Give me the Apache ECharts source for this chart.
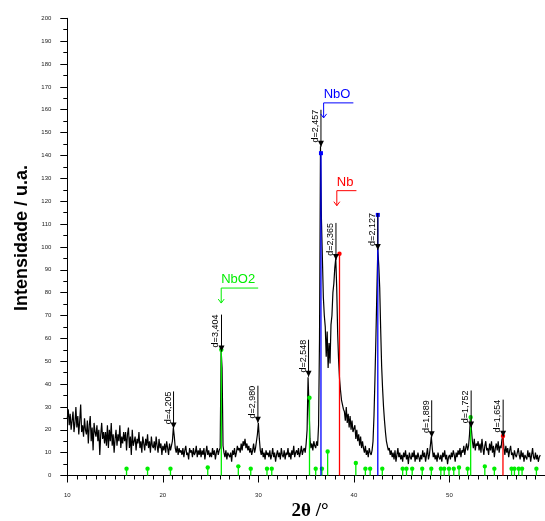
<!DOCTYPE html>
<html>
<head>
<meta charset="utf-8">
<script src="https://cdn.jsdelivr.net/npm/echarts@6/dist/echarts.min.js"></script>
<style>
html,body{margin:0;padding:0;background:#fff}
#main{width:545px;height:521px}
</style>
</head>
<body>
<div id="main"></div>
<script>
// diffractogram, 2theta from 10 in steps of 0.1
const angleStart = 10
const angleStep = 0.1
const intensity = [
  25,29,22,27,20,24,28,19,23,30,
  21,26,18,24,31,19,22,17,25,20,
  18,24,14,22,26,15,21,11,23,19,
  17,22,15,20,9,18,23,16,19,14,
  19,13,22,12,20,15,23,13,18,10,
  16,20,13,18,15,22,12,17,14,19,
  15,19,11,18,21,12,17,9,20,13,
  13,17,11,16,14,19,12,15,10,17,
  14,11,16,13,18,12,15,10,17,13,
  12,15,11,17,13,10,16,12,14,9,
  13,11,14,10,15,12,9,14,11,13,
  15,21,17,12,10,13,9,12,10,11,
  9,12,8,11,13,9,10,7,12,10,
  11,8,12,9,10,13,8,11,9,12,
  8,11,9,12,7,10,13,9,11,8,
  10,8,12,9,11,7,10,12,9,11,
  12,55,47,13,10,8,11,7,10,9,
  8,10,6,11,9,12,8,10,13,11,
  12,10,14,11,15,13,16,12,14,11,
  13,10,12,9,11,14,10,12,15,18,
  23,16,11,9,12,8,10,7,11,9,
  10,8,11,7,9,12,8,10,6,9,
  11,8,10,7,12,9,8,11,7,10,
  9,12,8,10,7,11,9,13,8,10,
  11,9,12,8,10,13,9,11,12,10,
  14,20,43,30,16,12,14,11,15,13,
  12,15,13,22,60,144,112,95,78,70,
  65,52,63,47,58,49,66,70,80,84,
  91,95,82,62,50,42,37,33,31,29,
  28,24,30,23,27,21,26,20,24,19,
  19,22,16,20,15,18,13,17,12,15,
  12,10,13,9,11,8,12,10,9,11,
  15,26,42,60,80,99,92,82,64,48,
  38,30,24,19,15,13,11,12,9,11,
  8,10,7,11,6,9,12,8,10,7,
  9,6,10,8,11,7,9,5,10,8,
  7,10,8,11,6,9,7,10,8,6,
  9,7,11,8,10,6,9,12,7,9,
  9,17,12,8,10,7,9,6,10,8,
  7,9,6,10,8,11,7,9,5,8,
  9,7,10,8,11,9,6,10,8,11,
  9,12,8,11,10,13,9,12,14,11,
  13,18,26,20,15,12,16,11,14,13,
  15,11,14,10,16,12,9,13,15,11,
  12,9,14,11,15,10,13,8,12,14,
  11,15,10,13,12,16,17,12,9,13,
  10,12,8,11,13,9,10,7,11,9,
  8,10,12,9,7,11,8,10,6,9,
  9,7,11,8,10,6,9,12,8,7,
  10,7,9,6,8,9
]

// reference patterns [2theta, relative height]
const nbo2Lines = [
  [16.2,3],[18.4,3],[20.8,3],[24.7,3.5],[26.12,55],[27.9,4],[29.2,3],[30.9,3],[31.4,3],
  [35.35,34],[36.0,3],[36.65,3],[37.25,10.5],[40.2,5.5],[41.2,3],[41.7,3],[42.97,3],
  [45.1,3],[45.5,3],[46.1,3],[47.15,3],[48.1,3],[49.1,3],[49.45,3],[49.95,3],[50.45,3],
  [51.0,3.5],[51.9,3],[52.22,25.5],[53.7,4],[54.7,3],[56.5,3],[56.8,3],[57.25,3],[57.6,3],[59.1,3]
]
const nboLines = [[36.55,141],[42.5,114]]
const nbLines = [[38.49,97],[55.6,17.3]]

// d-spacing markers [2theta, intensity at arrow, label]
const dMarks = [
  [21.12,20.6,'d=4,205'],
  [26.14,54.2,'d=3,404'],
  [29.95,23.1,'d=2,980'],
  [35.25,43.2,'d=2,548'],
  [36.55,143.8,'d=2,457'],
  [38.12,94.3,'d=2,365'],
  [42.5,98.6,'d=2,127'],
  [48.14,16.7,'d=1,889'],
  [52.27,21,'d=1,752'],
  [55.62,17,'d=1,654']
]

// phase names [2theta, intensity of bracket corner, name]
const phaseNames = [
  [36.83,163,'NbO'],
  [38.21,124.6,'Nb'],
  [26.11,82,'NbO2']
]
const phaseColor = {NbO:'#0000ff', Nb:'#ff0000', NbO2:'#00ee00'}

const pattern = intensity.map((v,i)=>[+(angleStart+i*angleStep).toFixed(2), v])

const measure = document.createElement('canvas').getContext('2d')
function textWidth(t, font){ measure.font = font; return measure.measureText(t).width }

function stickRender(color, marker){
  return function(params, api){
    const base = api.coord([api.value(0), 0])
    const top = api.coord([api.value(0), api.value(1)])
    const kids = [{type:'line', shape:{x1:base[0],y1:base[1],x2:top[0],y2:top[1]}, style:{stroke:color,lineWidth:1.3}}]
    if (marker==='rect') kids.push({type:'rect', shape:{x:top[0]-2,y:top[1]-2,width:4,height:4}, style:{fill:color}})
    else kids.push({type:'circle', shape:{cx:top[0],cy:top[1],r:2.2}, style:{fill:color}})
    return {type:'group', children:kids}
  }
}

function dRender(params, api){
  const p = api.coord([api.value(0), api.value(1)])
  const label = dMarks[params.dataIndex][2]
  const len = 37
  return {type:'group', children:[
    {type:'line', shape:{x1:p[0],y1:p[1]-len,x2:p[0],y2:p[1]}, style:{stroke:'#000',lineWidth:1}},
    {type:'polygon', shape:{points:[[p[0]-3,p[1]-6],[p[0]+3,p[1]-6],[p[0],p[1]]]}, style:{fill:'#000'}},
    {type:'text', x:p[0]-1, y:p[1]-len, rotation:Math.PI/2,
      style:{text:label, fill:'#000', font:'9px "Liberation Sans", Arial', align:'right', verticalAlign:'bottom'}}
  ]}
}

function phaseRender(params, api){
  const p = api.coord([api.value(0), api.value(1)])
  const name = phaseNames[params.dataIndex][2]
  const c = phaseColor[name]
  const font = '13px "Liberation Sans", Arial'
  const w = textWidth(name, font) + 3
  return {type:'group', children:[
    {type:'text', x:p[0], y:p[1]-2, style:{text:name, fill:c, font:font, align:'left', verticalAlign:'bottom'}},
    {type:'polyline', shape:{points:[[p[0]+w,p[1]],[p[0],p[1]],[p[0],p[1]+15]]}, style:{stroke:c,lineWidth:1,fill:null}},
    {type:'polyline', shape:{points:[[p[0]-3,p[1]+11],[p[0],p[1]+15],[p[0]+3,p[1]+11]]}, style:{stroke:c,lineWidth:1,fill:null}}
  ]}
}

const chart = echarts.init(document.getElementById('main'))
chart.setOption({
  animation:false,
  backgroundColor:'#fff',
  grid:{left:67.3, right:-5.6, top:18.3, bottom:45.5},
  xAxis:{
    type:'value', min:10, max:60, interval:10,
    axisLine:{lineStyle:{color:'#000',width:1}},
    axisTick:{length:7,lineStyle:{color:'#000'}},
    minorTick:{show:true,splitNumber:10,length:4,lineStyle:{color:'#000'}},
    axisLabel:{fontSize:6,color:'#222',margin:17,fontFamily:'Liberation Sans',showMaxLabel:false},
    splitLine:{show:false}
  },
  yAxis:{
    type:'value', min:0, max:200, interval:10,
    axisLine:{show:true,lineStyle:{color:'#000',width:1}},
    axisTick:{show:true,length:7,lineStyle:{color:'#000'}},
    minorTick:{show:true,splitNumber:2,length:4,lineStyle:{color:'#000'}},
    axisLabel:{fontSize:6,color:'#222',margin:16,fontFamily:'Liberation Sans'},
    splitLine:{show:false}
  },
  graphic:[
    {type:'text', x:22, y:238, rotation:Math.PI/2,
      style:{text:'Intensidade / u.a.', fill:'#000', font:'bold 18px "Liberation Sans", Arial', align:'center', verticalAlign:'middle'}},
    {type:'text', x:310, y:511,
      style:{text:'2θ /°', fill:'#000', font:'bold 19px "Liberation Serif", serif', align:'center', verticalAlign:'middle'}}
  ],
  series:[
    {type:'line', data:pattern, showSymbol:false, symbol:'none', z:2,
      lineStyle:{color:'#000',width:1.2}},
    {type:'custom', data:nbo2Lines, renderItem:stickRender(phaseColor.NbO2,'circle'), z:3},
    {type:'custom', data:nboLines, renderItem:stickRender(phaseColor.NbO,'rect'), z:3},
    {type:'custom', data:nbLines, renderItem:stickRender(phaseColor.Nb,'circle'), z:3},
    {type:'custom', data:dMarks.map(d=>[d[0],d[1]]), renderItem:dRender, z:4, clip:false},
    {type:'custom', data:phaseNames.map(d=>[d[0],d[1]]), renderItem:phaseRender, z:4, clip:false}
  ]
})
</script>
</body>
</html>
